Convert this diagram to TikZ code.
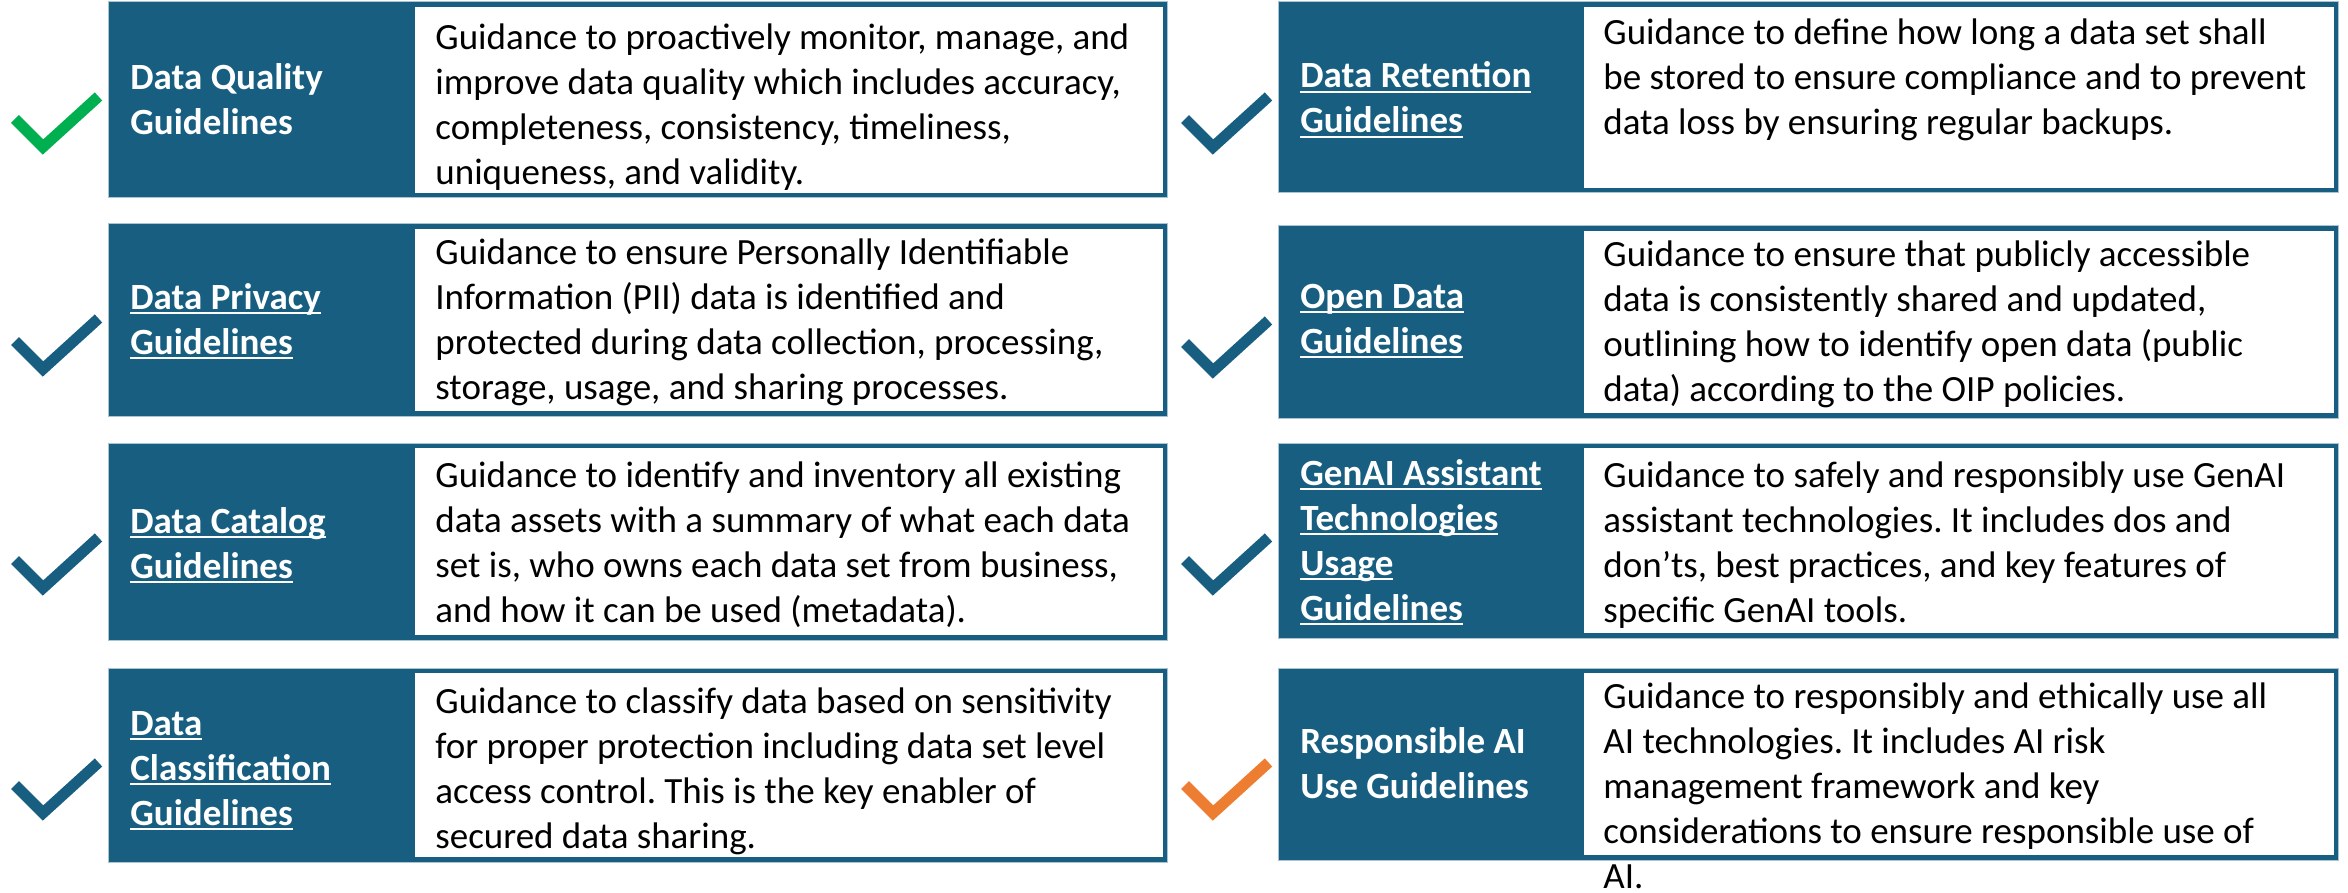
\documentclass[tikz,border=0pt]{standalone}
\usepackage{fontspec}
\setmainfont{Carlito}
\frenchspacing
\definecolor{tealblue}{RGB}{24,94,128}
\definecolor{edgeline}{RGB}{170,196,212}
\definecolor{okgreen}{RGB}{0,176,80}
\definecolor{warnorange}{RGB}{237,125,49}
% underlined link-style line
\newcommand\linkline[1]{\setbox0\hbox{#1}\rlap{\rule[-2.5pt]{\wd0}{1pt}}\box0}
% one guideline row: left, top, bottom, divider, right
\newcommand\rowframe[5]{%
  \fill[tealblue] (#1,#2) rectangle (#5,#3);
  \draw[edgeline, line width=0.5pt] (#1,#2) rectangle (#5,#3);
  \fill[white] (#4,{#2+5}) rectangle ({#5-4},{#3-5});}
% check mark next to a row: box left, box top
\newcommand\tickmark[3]{%
  \draw[tick, #3] ({#1-93},{#2+117}) -- ({#1-65},{#2+145}) -- ({#1-9.5},{#2+94.5});}
\begin{document}
\begin{tikzpicture}[x=0.5pt,y=-0.5pt,
  % multi-line nodes are placed by the baseline of their last line
  labeltext/.style={anchor=base west, align=left, inner sep=0pt, text=white,
    font=\fontsize{18.5}{22.5}\selectfont\bfseries\frenchspacing},
  desctext/.style={anchor=base west, align=left, inner sep=0pt, text=black,
    font=\fontsize{18.5}{22.5}\selectfont\frenchspacing},
  tick/.style={line width=5.5pt, line join=miter, line cap=butt}]
\useasboundingbox (0,0) rectangle (2348,893);

% ---- left column ----
\rowframe{108}{2}{198}{415}{1167}
\rowframe{108}{224}{416}{415}{1167}
\rowframe{108}{443}{640}{415}{1167}
\rowframe{108}{668}{862}{415}{1167}

\tickmark{108}{2}{okgreen}
\tickmark{108}{224}{tealblue}
\tickmark{108}{443}{tealblue}
\tickmark{108}{668}{tealblue}

\node[labeltext] (quality) at (130,135) {Data Quality\\Guidelines};
\node[desctext] (qualitytxt) at (435,185) {Guidance to proactively monitor, manage, and\\improve data quality which includes accuracy,\\completeness, consistency, timeliness,\\uniqueness, and validity.};

\node[labeltext] (privacy) at (130,354) {\linkline{Data Privacy}\\\linkline{Guidelines}};
\node[desctext] (privacytxt) at (435,399) {Guidance to ensure Personally Identifiable\\Information (PII) data is identified and\\protected during data collection, processing,\\storage, usage, and sharing processes.};

\node[labeltext] (catalog) at (130,578) {\linkline{Data Catalog}\\\linkline{Guidelines}};
\node[desctext] (catalogtxt) at (435,622) {Guidance to identify and inventory all existing\\data assets with a summary of what each data\\set is, who owns each data set from business,\\and how it can be used (metadata).};

\node[labeltext] (classif) at (130,825) {\linkline{Data}\\\linkline{Classification}\\\linkline{Guidelines}};
\node[desctext] (classiftxt) at (435,848) {Guidance to classify data based on sensitivity\\for proper protection including data set level\\access control. This is the key enabler of\\secured data sharing.};

% ---- right column ----
\rowframe{1278}{2}{193}{1584}{2338}
\rowframe{1278}{226}{418}{1584}{2338}
\rowframe{1278}{443}{638}{1584}{2338}
\rowframe{1278}{668}{860}{1584}{2338}

\tickmark{1278}{2}{tealblue}
\tickmark{1278}{226}{tealblue}
\tickmark{1278}{443}{tealblue}
\tickmark{1278}{668}{warnorange}

\node[labeltext] (retention) at (1300,133) {\linkline{Data Retention}\\\linkline{Guidelines}};
\node[desctext] (retentiontxt) at (1603,135) {Guidance to define how long a data set shall\\be stored to ensure compliance and to prevent\\data loss by ensuring regular backups.};

\node[labeltext] (opendata) at (1300,353) {\linkline{Open Data}\\\linkline{Guidelines}};
\node[desctext] (opendatatxt) at (1603,401) {Guidance to ensure that publicly accessible\\data is consistently shared and updated,\\outlining how to identify open data (public\\data) according to the OIP policies.};

\node[labeltext] (genai) at (1300,620) {\linkline{GenAI Assistant}\\\linkline{Technologies}\\\linkline{Usage}\\\linkline{Guidelines}};
\node[desctext] (genaitxt) at (1603,622) {Guidance to safely and responsibly use GenAI\\assistant technologies. It includes dos and\\don’ts, best practices, and key features of\\specific GenAI tools.};

\node[labeltext] (respai) at (1300,798) {Responsible AI\\Use Guidelines};
\node[desctext] (respaitxt) at (1603,888) {Guidance to responsibly and ethically use all\\AI technologies. It includes AI risk\\management framework and key\\considerations to ensure responsible use of\\AI.};
\end{tikzpicture}
\end{document}
